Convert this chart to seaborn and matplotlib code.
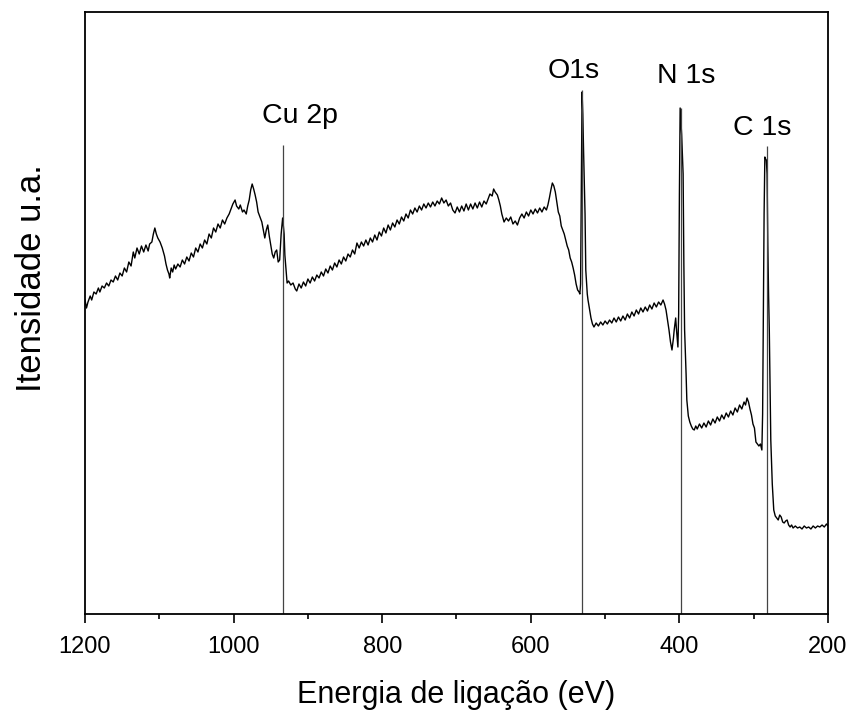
import matplotlib
matplotlib.use("Agg")
import matplotlib.pyplot as plt
from matplotlib.ticker import MultipleLocator
import seaborn as sns
import pandas as pd

# binding energy (eV)
energy = [
    1200, 1198, 1196, 1193, 1191, 1188, 1185, 1182, 1180, 1177,
    1174, 1171, 1168, 1165, 1162, 1159, 1156, 1153, 1150, 1147,
    1144, 1141, 1138, 1135, 1133, 1130, 1127, 1124, 1121, 1118,
    1115, 1113, 1110, 1108, 1106, 1104, 1102, 1099, 1096, 1093,
    1091, 1089, 1087, 1086, 1084, 1082, 1080, 1078, 1075, 1072,
    1069, 1066, 1063, 1060, 1057, 1054, 1051, 1048, 1045, 1042,
    1039, 1036, 1033, 1030, 1027, 1024, 1021, 1018, 1015, 1012,
    1009, 1006, 1004, 1001, 998, 996, 993, 991, 988, 986,
    983, 981, 979, 977, 975, 973, 971, 969, 967, 964,
    962, 960, 958, 956, 954, 952, 950, 948, 946, 944,
    942, 940, 938, 936, 934, 932, 931, 929, 928, 926,
    923, 920, 917, 915, 912, 909, 906, 903, 900, 897,
    894, 891, 888, 885, 882, 879, 876, 873, 870, 867,
    864, 861, 858, 855, 852, 849, 846, 843, 840, 837,
    834, 831, 828, 825, 822, 819, 816, 813, 810, 807,
    804, 801, 798, 795, 792, 789, 786, 783, 780, 777,
    774, 771, 768, 765, 762, 759, 756, 753, 750, 747,
    744, 741, 738, 735, 732, 729, 726, 723, 720, 717,
    714, 711, 708, 705, 702, 699, 696, 693, 690, 687,
    684, 681, 678, 675, 672, 669, 666, 663, 660, 657,
    655, 652, 650, 648, 645, 643, 641, 639, 636, 633,
    630, 627, 624, 621, 618, 615, 612, 609, 606, 603,
    600, 597, 594, 591, 588, 585, 582, 579, 577, 575,
    573, 571, 569, 567, 565, 563, 561, 559, 557, 555,
    553, 551, 549, 547, 545, 543, 541, 539, 537, 535,
    534, 533, 532, 531, 530, 529, 527, 526, 524, 523,
    521, 519, 517, 515, 512, 509, 506, 503, 500, 497,
    494, 491, 488, 485, 482, 479, 476, 473, 470, 467,
    464, 461, 458, 455, 452, 449, 446, 443, 440, 437,
    434, 431, 428, 425, 422, 420, 418, 416, 414, 412,
    410, 408, 407, 406, 405, 404, 402, 401, 400, 399,
    397, 395, 394, 393, 391, 390, 388, 386, 384, 382,
    380, 378, 376, 373, 370, 367, 364, 361, 358, 355,
    352, 349, 346, 343, 340, 337, 334, 331, 328, 325,
    322, 319, 316, 313, 311, 309, 307, 305, 303, 301,
    299, 297, 295, 293, 291, 289, 288, 287, 286, 285,
    284, 283, 282, 281, 280, 279, 278, 277, 275, 273,
    271, 269, 267, 265, 263, 261, 259, 257, 255, 253,
    251, 249, 247, 244, 241, 238, 235, 232, 229, 226,
    223, 220, 217, 214, 211, 208, 205, 202, 200,
]

# intensity (arbitrary units)
intensity = [
    314, 306, 312, 318, 314, 322, 320, 326, 322, 328,
    326, 331, 328, 334, 332, 338, 334, 341, 338, 346,
    342, 352, 348, 362, 356, 366, 360, 368, 362, 369,
    363, 370, 372, 380, 386, 380, 376, 372, 366, 358,
    350, 344, 340, 336, 346, 342, 349, 345, 350, 347,
    354, 350, 357, 353, 361, 357, 366, 362, 370, 366,
    374, 370, 380, 376, 386, 382, 390, 386, 394, 390,
    396, 400, 404, 410, 414, 408, 405, 409, 402, 404,
    400, 408, 414, 424, 430, 425, 419, 412, 402, 396,
    392, 384, 376, 384, 389, 378, 369, 360, 356, 362,
    364, 352, 354, 380, 396, 380, 359, 340, 331, 333,
    329, 331, 325, 323, 330, 326, 332, 328, 335, 331,
    337, 333, 339, 336, 342, 338, 345, 341, 348, 344,
    351, 347, 354, 350, 357, 353, 360, 357, 364, 360,
    371, 366, 372, 368, 374, 369, 376, 372, 379, 374,
    382, 378, 386, 381, 389, 384, 391, 387, 394, 390,
    397, 393, 400, 396, 404, 400, 406, 402, 408, 404,
    410, 406, 411, 407, 412, 408, 413, 410, 416, 411,
    414, 408, 411, 404, 401, 407, 402, 408, 403, 410,
    404, 410, 405, 411, 406, 412, 407, 413, 410, 416,
    420, 418, 425, 422, 419, 414, 408, 400, 392, 396,
    393, 397, 390, 393, 389, 396, 400, 396, 402, 398,
    404, 400, 405, 401, 406, 402, 407, 404, 409, 416,
    424, 431, 428, 422, 412, 402, 398, 388, 384, 380,
    374, 368, 364, 356, 352, 346, 339, 330, 324, 322,
    320, 330, 420, 522, 500, 464, 400, 344, 320, 314,
    305, 296, 290, 287, 291, 288, 292, 289, 293, 290,
    294, 291, 296, 292, 297, 293, 298, 294, 300, 296,
    302, 298, 304, 300, 306, 302, 307, 303, 309, 305,
    311, 307, 312, 309, 314, 310, 304, 294, 284, 272,
    264, 276, 284, 290, 296, 285, 267, 300, 420, 506,
    480, 440, 350, 284, 240, 214, 198, 192, 188, 185,
    184, 188, 185, 190, 186, 191, 187, 193, 189, 195,
    191, 197, 193, 199, 195, 201, 197, 203, 199, 206,
    202, 209, 205, 212, 209, 216, 212, 205, 199, 190,
    186, 172, 170, 168, 170, 164, 200, 300, 400, 457,
    455, 454, 440, 370, 320, 284, 230, 174, 130, 104,
    98, 96, 94, 99, 97, 92, 91, 93, 94, 89,
    87, 89, 86, 88, 86, 87, 85, 88, 86, 87,
    85, 88, 86, 88, 87, 89, 87, 90, 88,
]

peak_names = ["Cu 2p", "O1s", "N 1s", "C 1s"]
peak_energy = [933, 531, 398, 282]
peak_line_top = [469, 524, 506, 468]
label_energy = [910.6, 541.8, 391, 288.8]
label_height = [491, 536, 531, 479]

xticks = [1200, 1000, 800, 600, 400, 200]

df = pd.DataFrame({"E": energy, "I": intensity})

sns.set_style("ticks")
plt.rcParams["font.family"] = ["Liberation Sans", "DejaVu Sans"]
plt.rcParams["text.color"] = "black"
plt.rcParams["axes.labelcolor"] = "black"
plt.rcParams["xtick.color"] = "black"
plt.rcParams["xtick.labelcolor"] = "black"

fig = plt.figure(figsize=(8.54, 7.11), dpi=100)
ax = fig.add_axes([85 / 854, 97 / 711, 743 / 854, 602 / 711])

sns.lineplot(data=df, x="E", y="I", ax=ax, color="black", linewidth=1.0,
             sort=False, estimator=None)

ax.vlines(peak_energy, 0, peak_line_top, color="#444444", linewidth=0.9)
for name, xe, yl in zip(peak_names, label_energy, label_height):
    ax.text(xe, yl, name, ha="center", va="baseline", fontsize=20.5, color="black")

ax.set_xlim(1200, 200)
ax.set_ylim(0, 602)
ax.set_xticks(xticks)
ax.xaxis.set_minor_locator(MultipleLocator(100))
ax.set_yticks([])

ax.set_xticklabels([str(t) for t in xticks], fontsize=17)
ax.tick_params(axis="x", which="major", direction="out", length=6.5, width=1.2, pad=9,
               colors="black")
ax.tick_params(axis="x", which="minor", direction="out", length=3.5, width=1.2,
               colors="black")
ax.set_xlabel("Energia de ligação (eV)", fontsize=22, labelpad=16)
ax.set_ylabel("Itensidade u.a.", fontsize=25)
ax.yaxis.set_label_coords(-0.05, 0.558)

for s in ax.spines.values():
    s.set_visible(True)
    s.set_linewidth(1.3)
    s.set_color("black")

fig.savefig("out.png", dpi=100)
